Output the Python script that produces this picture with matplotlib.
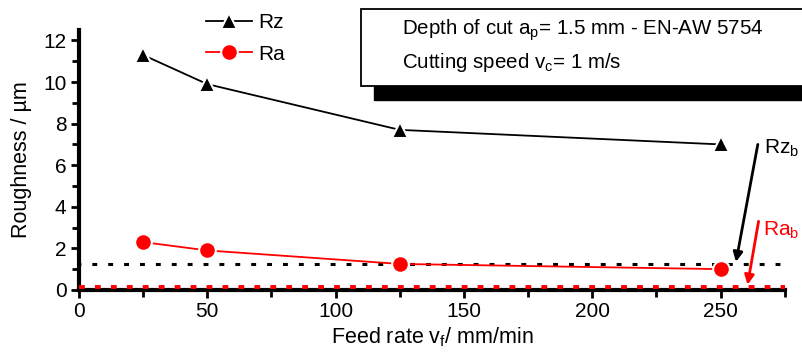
#!/usr/bin/env python3

import numpy as np
import matplotlib.pyplot as plt
from matplotlib.patches import Rectangle
from matplotlib.ticker import MultipleLocator

plt.rcParams['font.family'] = ['Liberation Sans', 'DejaVu Sans']

# measured roughness vs feed rate
feed = [25, 50, 125, 250]
Rz = [11.3, 9.9, 7.7, 7.0]
Ra = [2.3, 1.9, 1.25, 1.0]

# base roughness levels
Rz_b = 1.25
Ra_b = 0.15

fs = 15

fig = plt.figure( figsize = ( 8.02, 3.54 ), dpi = 100 )
ax = fig.add_axes( [ 0.0985, 0.181, 0.880, 0.734 ] )

ax.axhline( Rz_b, color = 'black', lw = 2.2, ls = ( 1, ( 1.6, 3.6 ) ),
            dash_capstyle = 'butt', zorder = 2 )
ax.axhline( Ra_b, color = 'red', lw = 2.8, ls = ( 0, ( 1.5, 2.6 ) ),
            dash_capstyle = 'butt', zorder = 4, clip_on = False )

ax.plot( feed, Rz, '-^', color = 'black', lw = 1.3, ms = 12, mec = 'white',
         mew = 1.5, label = 'Rz', zorder = 5 )
ax.plot( feed, Ra, '-o', color = 'red', lw = 1.3, ms = 12, mec = 'white',
         mew = 1.5, label = 'Ra', zorder = 5 )

ax.set_xlim( 0, 275 )
ax.set_ylim( 0, 12.5 )
ax.xaxis.set_major_locator( MultipleLocator( 50 ) )
ax.xaxis.set_minor_locator( MultipleLocator( 25 ) )
ax.yaxis.set_major_locator( MultipleLocator( 2 ) )
ax.yaxis.set_minor_locator( MultipleLocator( 1 ) )

for s in [ 'top', 'right' ]:
    ax.spines[s].set_visible( False )
for s in [ 'left', 'bottom' ]:
    ax.spines[s].set_linewidth( 3 )
ax.spines['bottom'].set_zorder( 3 )

ax.tick_params( which = 'both', direction = 'out', width = 2, labelsize = fs )
ax.tick_params( which = 'major', length = 6, pad = 3 )
ax.tick_params( which = 'minor', length = 5 )

ax.set_xlabel( r'Feed rate v$_{\mathregular{f}}$/ mm/min', fontsize = 15.5, labelpad = 3 )
ax.set_ylabel( r'Roughness / µm', fontsize = 15.5, labelpad = 8 )

leg = ax.legend( loc = 'upper left', bbox_to_anchor = ( 0.153, 1.137 ),
                 frameon = False, fontsize = fs, handlelength = 2.2,
                 labelspacing = 0.6, handletextpad = 0.3 )

# info box with shadow (figure coords)
shadow = Rectangle( ( 374 / 802, 1 - 100 / 354 ), 430 / 802, 75 / 354,
                    transform = fig.transFigure, facecolor = 'black',
                    edgecolor = 'black', clip_on = False, zorder = 10 )
box = Rectangle( ( 361 / 802, 1 - 86 / 354 ), 445 / 802, 77 / 354,
                 transform = fig.transFigure, facecolor = 'white',
                 edgecolor = 'black', lw = 1.3, clip_on = False, zorder = 11 )
fig.patches.extend( [ shadow, box ] )
fig.text( 402 / 802, 1 - 30 / 354,
          r'Depth of cut a$_{\mathregular{p}}$= 1.5 mm - EN-AW 5754',
          fontsize = 14.8, va = 'center', zorder = 12 )
fig.text( 402 / 802, 1 - 62 / 354,
          r'Cutting speed v$_{\mathregular{c}}$= 1 m/s',
          fontsize = 14.8, va = 'center', zorder = 12 )

# base-level annotations
ax.annotate( '', xy = ( 256, 1.35 ), xytext = ( 264.5, 7.0 ),
             arrowprops = dict( arrowstyle = '-|>', color = 'black', lw = 2,
                                mutation_scale = 14, shrinkA = 0, shrinkB = 0 ),
             annotation_clip = False )
ax.text( 267, 6.55, r'Rz$_{\mathregular{b}}$', fontsize = fs, color = 'black',
         clip_on = False )
ax.annotate( '', xy = ( 260.5, 0.25 ), xytext = ( 264.8, 3.3 ),
             arrowprops = dict( arrowstyle = '-|>', color = 'red', lw = 2,
                                mutation_scale = 14, shrinkA = 0, shrinkB = 0 ),
             annotation_clip = False )
ax.text( 266.5, 2.6, r'Ra$_{\mathregular{b}}$', fontsize = fs, color = 'red',
         clip_on = False )

plt.savefig( 'out.png', dpi = 100 )
plt.close()
